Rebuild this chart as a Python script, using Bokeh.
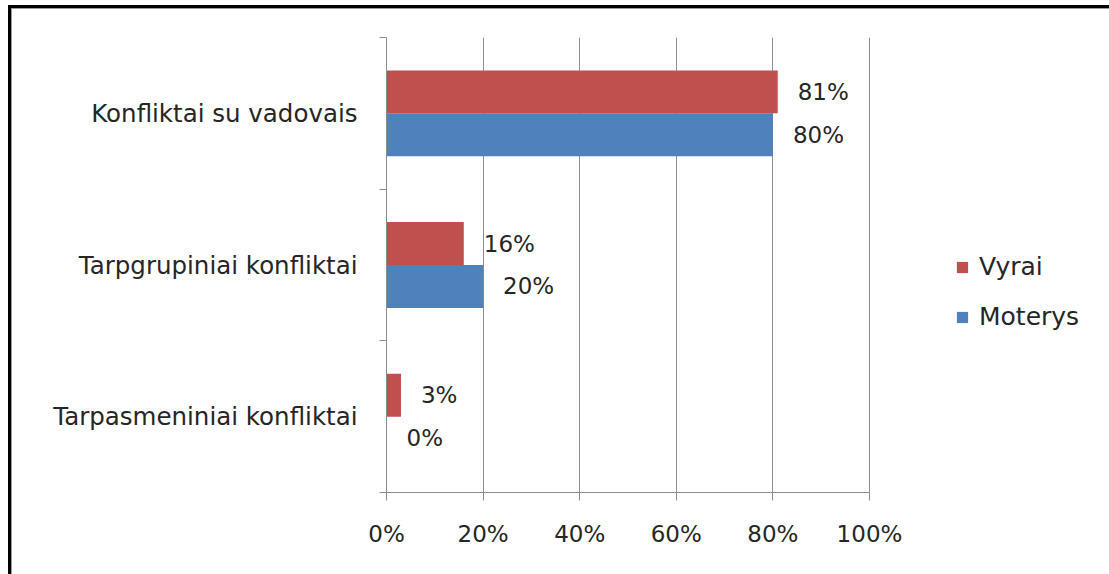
from bokeh.plotting import figure
from bokeh.models import (ColumnDataSource, Range1d, FixedTicker, Legend, LegendItem,
                          InlineStyleSheet, LinearAxis, Grid)
from bokeh.transform import dodge
from bokeh.embed import file_html
from bokeh.resources import INLINE
from bokeh.core.properties import value

# Data (bottom to top as drawn)
categories = ["Tarpasmeniniai konfliktai", "Tarpgrupiniai konfliktai", "Konfliktai su vadovais"]
vyrai = [3, 16, 81]
moterys = [0, 20, 80]
series_names = ["Vyrai", "Moterys"]
x_ticks = [0, 20, 40, 60, 80, 100]

RED = "#C0504D"
BLUE = "#4F81BD"
GRID = "#8C8C8C"
TXT = "#262626"
FONT = "DejaVu Sans"

# layout: the value axis (0..100 %) spans 483 px; the frame is widened so the
# legend (drawn in the frame) is not clipped
PLOT_W = 483
FRAME_W = 713
x_end = 100 * FRAME_W / PLOT_W

pos = [i + 0.5 for i in range(len(categories))]
src = ColumnDataSource(dict(
    cat=categories, pos=pos,
    vyrai=vyrai, moterys=moterys,
    vyrai_lbl=[f"{v}%" for v in vyrai],
    moterys_lbl=[f"{v}%" for v in moterys],
))

p = figure(width=1109, height=574, output_backend="svg", toolbar_location=None,
           x_range=Range1d(0, x_end), y_range=Range1d(0, len(categories)),
           min_border_left=386, min_border_right=1109 - 386 - FRAME_W,
           min_border_top=37, min_border_bottom=82,
           x_axis_type=None, y_axis_type=None)
p.outline_line_color = None
p.background_fill_color = "white"
p.border_fill_color = "white"

# x axis
xticker = FixedTicker(ticks=x_ticks, minor_ticks=[])
xax = LinearAxis(ticker=xticker, bounds=(0, 100))
xax.major_label_overrides = {t: f"{t}%" for t in x_ticks}
xax.axis_line_color = GRID
xax.major_tick_line_color = GRID
xax.major_tick_out = 8
xax.major_tick_in = 0
xax.major_label_standoff = 20
xax.major_label_text_font = FONT
xax.major_label_text_font_size = "23px"
xax.major_label_text_color = TXT
p.add_layout(xax, "below")

# y axis: labels at centres, ticks at category boundaries
yax = LinearAxis(ticker=FixedTicker(ticks=pos, minor_ticks=list(range(len(categories) + 1))))
yax.major_label_overrides = {pv: c for pv, c in zip(pos, categories)}
yax.axis_line_color = GRID
yax.major_tick_line_color = None
yax.major_tick_out = 0
yax.major_tick_in = 0
yax.minor_tick_line_color = GRID
yax.minor_tick_out = 7
yax.minor_tick_in = 0
yax.major_label_standoff = 22
yax.major_label_text_font = FONT
yax.major_label_text_font_size = "24.5px"
yax.major_label_text_color = TXT
p.add_layout(yax, "left")

p.add_layout(Grid(dimension=0, ticker=xticker, grid_line_color=GRID))

bh = 0.283
off = 0.1415
r1 = p.hbar(y=dodge("pos", off), right="vyrai", left=0, height=bh, source=src,
            fill_color=RED, line_color=None)
r2 = p.hbar(y=dodge("pos", -off), right="moterys", left=0, height=bh, source=src,
            fill_color=BLUE, line_color=None)

p.text(x="vyrai", y=dodge("pos", off), text="vyrai_lbl", source=src, x_offset=20,
       text_align="left", text_baseline="middle", text_font=value(FONT),
       text_font_size="23px", text_color=TXT)
p.text(x="moterys", y=dodge("pos", -off), text="moterys_lbl", source=src, x_offset=20,
       text_align="left", text_baseline="middle", text_font=value(FONT),
       text_font_size="23px", text_color=TXT)

legend = Legend(items=[LegendItem(label=series_names[0], renderers=[r1]),
                       LegendItem(label=series_names[1], renderers=[r2])],
                location=(569, 161), orientation="vertical")
legend.glyph_width = 14
legend.glyph_height = 14
legend.label_standoff = 10
legend.spacing = 21
legend.padding = 0
legend.margin = 0
legend.border_line_color = None
legend.background_fill_alpha = 0
legend.label_text_font = FONT
legend.label_text_font_size = "25px"
legend.label_text_color = TXT
p.add_layout(legend, "center")

p.stylesheets = [InlineStyleSheet(css="""
:host { position: relative; }
:host::after {
  content: ''; position: absolute; left: 8px; top: 5px; right: -20px; bottom: -20px;
  border-top: 3px solid #000; border-left: 3px solid #000;
  box-shadow: inset 1px 1px 0 #9a9a9a; pointer-events: none; z-index: 10;
}
""")]

open("out.html", "w").write(file_html(p, INLINE))
